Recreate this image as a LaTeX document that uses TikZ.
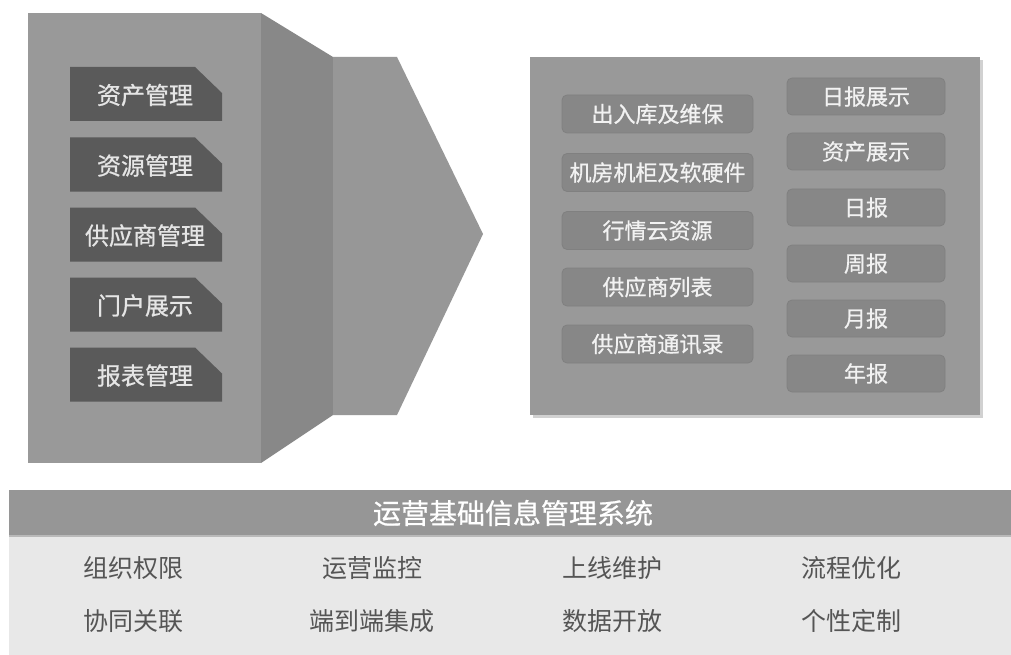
\documentclass[tikz,border=0pt]{standalone}
\usepackage{fontspec}
\newfontfamily\cjk{Noto Sans CJK SC}
\newfontfamily\cjkm[FakeBold=0.8]{Noto Sans CJK SC}
\usetikzlibrary{shadows}
\definecolor{cmain}{HTML}{999999}
\definecolor{cside}{HTML}{888888}
\definecolor{carrow}{HTML}{979797}
\definecolor{cdark}{HTML}{5A5A5A}
\definecolor{cpanel}{HTML}{999999}
\definecolor{crbox}{HTML}{878787}
\definecolor{crboxline}{HTML}{808080}
\definecolor{chead}{HTML}{969696}
\definecolor{clight}{HTML}{E8E8E8}
\definecolor{ctext}{HTML}{555555}
\begin{document}
\begin{tikzpicture}[x=1pt,y=-1pt,
  ltext/.style={text=white!90!black, inner sep=0pt, font=\cjkm\fontsize{24}{24}\selectfont},
  rboxa/.style={rounded corners=5pt, fill=crbox, draw=crboxline, line width=0.8pt,
    minimum width=191pt, minimum height=38pt, inner sep=0pt, text=white!95!black,
    font=\cjkm\fontsize{22}{22}\selectfont},
  rboxb/.style={rboxa, minimum width=158pt, minimum height=37pt},
  btext/.style={text=ctext, inner sep=0pt, font=\cjk\fontsize{25}{25}\selectfont},
  softshadow/.style={drop shadow={opacity=0.18, shadow xshift=3pt, shadow yshift=-3pt, fill=black}}]
\useasboundingbox (0,0) rectangle (1011,655);
\fill[white] (0,0) rectangle (1011,655);

% left block, side face and arrow
\fill[cmain] (28,13) rectangle (261,463);
\fill[cside] (261,13) -- (333,57) -- (333,415) -- (261,463) -- cycle;
\fill[carrow] (333,57) -- (397,57) -- (483,234) -- (397,415) -- (333,415) -- cycle;

% left tabs
\foreach \c/\t/\n in {94/资产管理/la, 164.5/资源管理/lb, 234.5/供应商管理/lc, 304.5/门户展示/ld, 374.5/报表管理/le}{
  \fill[cdark] (70,\c-27) -- (195,\c-27) -- (222,\c-1) -- (222,\c+27) -- (70,\c+27) -- cycle;
  \node[ltext] (\n) at (145,\c+1) {\t};
}

% right panel
\fill[cpanel, softshadow] (530,57) rectangle (980,415);
\foreach \c/\t/\n in {114/出入库及维保/ra, 172.5/机房机柜及软硬件/rb, 230.5/行情云资源/rc, 287/供应商列表/rd, 344/供应商通讯录/re}{
  \node[rboxa] (\n) at (657.5,\c) {\t};
}
\foreach \c/\t/\n in {96.5/日报展示/sa, 151.5/资产展示/sb, 207.5/日报/sc, 263.5/周报/sd, 318.5/月报/se, 373.5/年报/sf}{
  \node[rboxb] (\n) at (866,\c) {\t};
}

% bottom band
\fill[clight] (9,535) rectangle (1011,655);
\fill[chead, drop shadow={opacity=0.2, shadow xshift=0pt, shadow yshift=-2pt, fill=black}] (9,490) rectangle (1011,535);
\node[text=white, inner sep=0pt, font=\cjkm\fontsize{28}{28}\selectfont] (head) at (513,513) {运营基础信息管理系统};

\node[btext] (b1) at (133,568) {组织权限};
\node[btext] (b2) at (372,568) {运营监控};
\node[btext] (b3) at (612,568) {上线维护};
\node[btext] (b4) at (851,568) {流程优化};
\node[btext] (b5) at (133,621) {协同关联};
\node[btext] (b6) at (372,621) {端到端集成};
\node[btext] (b7) at (612,621) {数据开放};
\node[btext] (b8) at (851,621) {个性定制};
\end{tikzpicture}
\end{document}
